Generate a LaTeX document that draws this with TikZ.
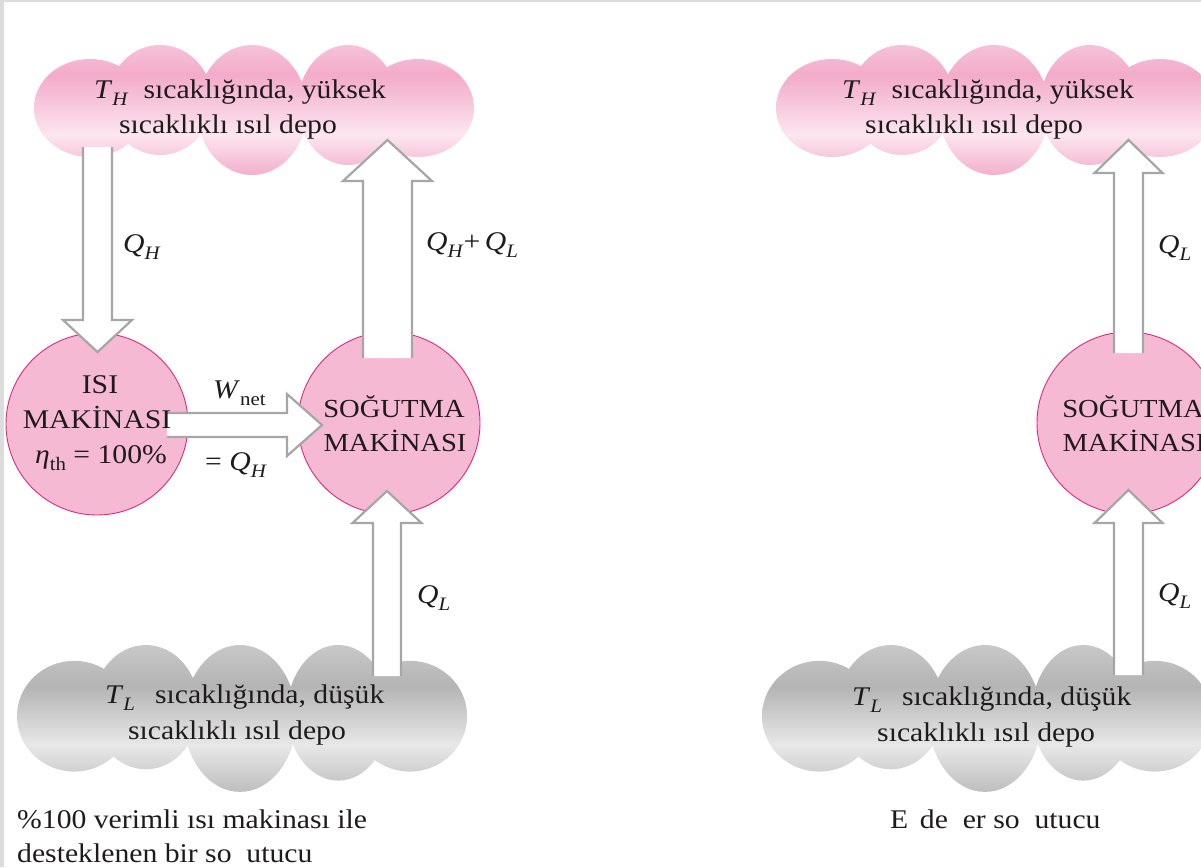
\documentclass[tikz,border=0pt]{standalone}
\usepackage{fontspec}
\setmainfont{Liberation Serif}[FakeStretch=1.1]
\usetikzlibrary{calc}
\definecolor{frame}{HTML}{DCDCDC}
\definecolor{cpA}{HTML}{F6C2D9}
\definecolor{cpT}{HTML}{F3ABCA}
\definecolor{cpL}{HTML}{FCE6F0}
\definecolor{cpB}{HTML}{F3AFCC}
\definecolor{cgA}{HTML}{C8C8C8}
\definecolor{cgT}{HTML}{B4B4B4}
\definecolor{cgL}{HTML}{E8E8E8}
\definecolor{cgB}{HTML}{BEBEBE}
\definecolor{circfill}{HTML}{F6B9D4}
\definecolor{circline}{HTML}{E0287F}
\definecolor{arrline}{HTML}{A6A6A6}
\definecolor{ink}{HTML}{1E1B1C}
\pgfdeclareverticalshading{pinkcloud}{100bp}{color(0bp)=(cpB); color(25bp)=(cpB); color(40.5bp)=(cpL); color(63.5bp)=(cpT); color(75bp)=(cpA); color(100bp)=(cpA)}
\pgfdeclareverticalshading{graycloud}{100bp}{color(0bp)=(cgB); color(25bp)=(cgB); color(41bp)=(cgL); color(61bp)=(cgT); color(75bp)=(cgA); color(100bp)=(cgA)}
\newcommand\lsub[1]{\raisebox{-0.28em}{\fontsize{19}{19}\selectfont #1}}
\newcommand\QH{\textit{Q}\lsub{\textit{H}}}
\newcommand\QL{\textit{Q}\lsub{\textit{L}}}
\newcommand\drawcloud[3]{%
  \begin{scope}[shift={(#1)},#2]
    \shade[shading=#3]
      (56,63) ellipse [x radius=56pt, y radius=49pt]
      (126,55) ellipse [x radius=52pt, y radius=55pt]
      (218,65) ellipse [x radius=55pt, y radius=65pt]
      (314,60) ellipse [x radius=50pt, y radius=60pt]
      (384,63) ellipse [x radius=56pt, y radius=49pt];
  \end{scope}}
\newcommand\blockarrow[5]{%
  \coordinate (ba-hb) at ($(#2)!#5!(#1)$);
  \coordinate (ba-tl) at ($(#1)!#3!90:(#2)$);
  \coordinate (ba-tr) at ($(#1)!#3!-90:(#2)$);
  \coordinate (ba-sl) at ($(ba-hb)!#3!90:(#2)$);
  \coordinate (ba-sr) at ($(ba-hb)!#3!-90:(#2)$);
  \coordinate (ba-hl) at ($(ba-hb)!#4!90:(#2)$);
  \coordinate (ba-hr) at ($(ba-hb)!#4!-90:(#2)$);
  \fill[white] (ba-tl) -- (ba-sl) -- (ba-hl) -- (#2) -- (ba-hr) -- (ba-sr) -- (ba-tr) -- cycle;
  \draw[arrowline] (ba-tl) -- (ba-sl) -- (ba-hl) -- (#2) -- (ba-hr) -- (ba-sr) -- (ba-tr);}
\tikzset{
  arrowline/.style={draw=arrline, line width=2.2pt, line join=miter},
  machine/.style={circle, minimum size=182pt, inner sep=0pt, fill=circfill, draw=circline, line width=0.9pt},
  txt/.style={inner sep=0pt, text=ink, font=\fontsize{27}{32}\selectfont},
  ctxt/.style={inner sep=0pt, text=ink, font=\fontsize{26}{32}\selectfont},
}
\begin{document}
\begin{tikzpicture}[x=1pt,y=-1pt]
\path[use as bounding box] (0,0) rectangle (1201,867);
\clip (0,0) rectangle (1201,867);
\fill[frame] (0,0) rectangle (1201,867);
\fill[white] (3.5,2.2) rectangle (1201,867);

% reservoirs
\drawcloud{34,45}{}{pinkcloud}
\drawcloud{776,45}{}{pinkcloud}
\drawcloud{17,645}{xscale=1.023,yscale=1.13}{graycloud}
\drawcloud{762,645}{xscale=1.023,yscale=1.13}{graycloud}

% machines
\node[machine] (engine) at (97,424) {};
\node[machine] (fridge) at (389,423) {};
\node[machine] (fridgeR) at (1128,423) {};

% arrows
\coordinate (qh-s) at (97.5,147);   \coordinate (qh-e) at (97.5,352);
\coordinate (up-s) at (387.5,358);  \coordinate (up-e) at (387.5,140);
\coordinate (w-s) at (167,425);     \coordinate (w-e) at (322,425);
\coordinate (ql-s) at (387,676);    \coordinate (ql-e) at (387,491);
\coordinate (rup-s) at (1128.5,353); \coordinate (rup-e) at (1128.5,140);
\coordinate (rlo-s) at (1128.5,675); \coordinate (rlo-e) at (1128.5,490);
\blockarrow{qh-s}{qh-e}{14.5pt}{34.5pt}{32pt}
\blockarrow{up-s}{up-e}{24.5pt}{44.5pt}{41pt}
\blockarrow{w-s}{w-e}{12pt}{31pt}{35pt}
\blockarrow{ql-s}{ql-e}{14pt}{34.5pt}{32pt}
\blockarrow{rup-s}{rup-e}{14.5pt}{34pt}{33pt}
\blockarrow{rlo-s}{rlo-e}{14.5pt}{34pt}{33pt}

% cloud texts
\node[txt, anchor=base west] (thl1) at (94,98) {\textit{T}\lsub{\textit{H}}\hspace{15pt}sıcaklığında, yüksek};
\node[txt, anchor=base] (thl2) at (228,133) {sıcaklıklı ısıl depo};
\node[txt, anchor=base west] (thr1) at (842,98) {\textit{T}\lsub{\textit{H}}\hspace{15pt}sıcaklığında, yüksek};
\node[txt, anchor=base west] (thr2) at (865,133) {sıcaklıklı ısıl depo};
\node[txt, anchor=base west] (tll1) at (105,703) {\textit{T}\lsub{\textit{L}}\hspace{20pt}sıcaklığında, düşük};
\node[txt, anchor=base] (tll2) at (237,739) {sıcaklıklı ısıl depo};
\node[txt, anchor=base west] (tlr1) at (852,705) {\textit{T}\lsub{\textit{L}}\hspace{20pt}sıcaklığında, düşük};
\node[txt, anchor=base west] (tlr2) at (877,741) {sıcaklıklı ısıl depo};

% machine texts
\node[txt, anchor=base] (e1) at (100,393) {ISI};
\node[txt, anchor=base] (e2) at (97,428) {MAKİNASI};
\node[txt, anchor=base] (e3) at (101,463) {\textit{η}\lsub{th} = 100\%};
\node[ctxt, anchor=base] (f1) at (394,417) {SOĞUTMA};
\node[ctxt, anchor=base] (f2) at (395,451) {MAKİNASI};
\node[ctxt, anchor=base] (g1) at (1133,417) {SOĞUTMA};
\node[ctxt, anchor=base] (g2) at (1134,451) {MAKİNASI};

% flow labels
\node[txt, anchor=base west] (lqh) at (123,252) {\QH};
\node[txt, anchor=base west] (lqhql) at (426,250) {\QH{}+\,\QL};
\node[txt, anchor=base west] (lql) at (417,603) {\QL};
\node[txt, anchor=base west] (rql1) at (1158,253) {\QL};
\node[txt, anchor=base west] (rql2) at (1158,601) {\QL};
\node[txt, anchor=base west] (lw) at (213,398) {\textit{W}\lsub{net}};
\node[txt, anchor=base west] (lwq) at (205,470) {= \QH};

% captions
\node[txt, anchor=base west] (cap1) at (17,828) {\%100 verimli ısı makinası ile};
\node[txt, anchor=base west] (cap2) at (17,862) {desteklenen bir so\phantom{ğ}utucu};
\node[txt, anchor=base west] (cap3) at (890,828) {E\phantom{ş}de\phantom{ğ}er so\phantom{ğ}utucu};
\end{tikzpicture}
\end{document}
